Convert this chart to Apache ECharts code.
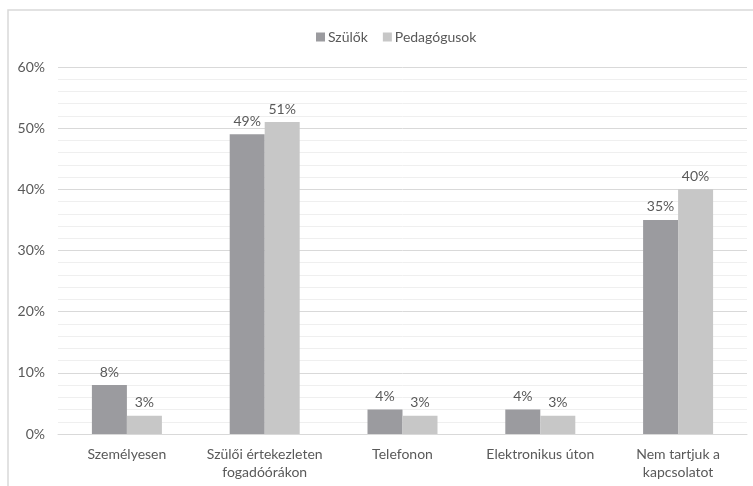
<!DOCTYPE html>
<html><head><meta charset="utf-8">
<script src="https://cdn.jsdelivr.net/npm/echarts@6/dist/echarts.min.js"></script>
<style>html,body{margin:0;padding:0;background:#fff}#c{width:753px;height:486px}</style>
</head><body><div id="c"></div>
<script>
const categories = ["Személyesen", "Szülői értekezleten\nfogadóórákon", "Telefonon", "Elektronikus úton", "Nem tartjuk a\nkapcsolatot"];
const szulok = [8, 49, 4, 4, 35];
const pedagogusok = [3, 51, 3, 3, 40];
const seriesNames = ["Szülők", "Pedagógusok"];
const font = "Lato, 'Open Sans', sans-serif";
const txt = "#595959";
const chart = echarts.init(document.getElementById('c'), null, {renderer:'canvas'});
const lbl = {show:true, position:'top', formatter:'{c}%', color:txt, fontFamily:font, fontSize:14, distance:6};
chart.setOption({
  animation:false,
  graphic:[{type:'rect', shape:{x:8,y:10,width:800,height:600}, style:{fill:'none', stroke:'#d9d9d9', lineWidth:1.5}, silent:true}],
  legend:{top:25, left:311, itemWidth:9, itemHeight:9, itemGap:15, icon:'rect',
    textStyle:{color:txt, fontFamily:font, fontSize:14, padding:[0,0,0,-2]}, data:seriesNames},
  grid:{left:58, right:6, top:67, bottom:52},
  xAxis:{type:'category', data:categories,
    axisLine:{lineStyle:{color:'#d9d9d9'}}, axisTick:{show:false},
    axisLabel:{color:txt, fontFamily:font, fontSize:14, margin:11, lineHeight:18, interval:0}},
  yAxis:{type:'value', min:0, max:60, interval:10,
    axisLabel:{formatter:'{value}%', color:txt, fontFamily:font, fontSize:14, margin:13},
    axisLine:{show:false}, axisTick:{show:false},
    splitLine:{lineStyle:{color:'#d9d9d9', width:1}},
    minorTick:{show:false, splitNumber:5},
    minorSplitLine:{show:true, lineStyle:{color:'#efefef', width:1}}},
  series:[
    {name:seriesNames[0], type:'bar', data:szulok, barWidth:35, barGap:'0%', itemStyle:{color:'#9b9b9f'}, label:lbl},
    {name:seriesNames[1], type:'bar', data:pedagogusok, barWidth:35, itemStyle:{color:'#c7c7c7'}, label:lbl}
  ]
});
</script></body></html>
